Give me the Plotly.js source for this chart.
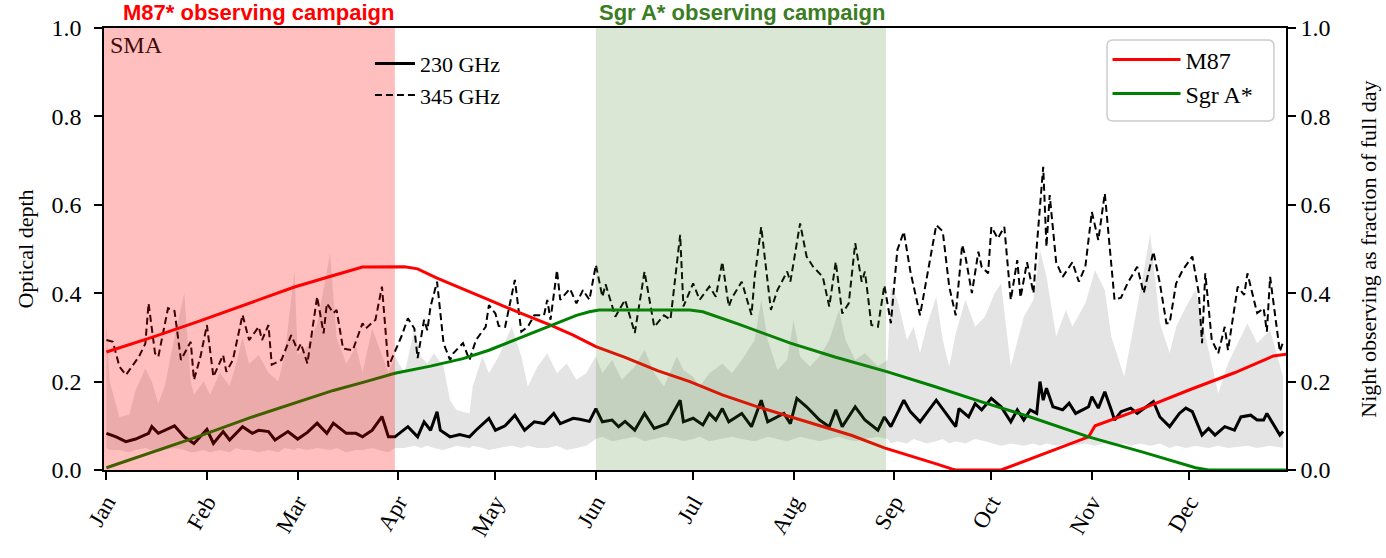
<!DOCTYPE html>
<html>
<head>
<meta charset="utf-8">
<script src="https://cdn.plot.ly/plotly-3.0.1.min.js"></script>
<style>html,body{margin:0;padding:0;background:#fff}</style>
</head>
<body>
<div id="chart" style="width:1386px;height:558px"></div>
<script>
// x values are day of year (0 = 1 Jan)
var monthDays = [0, 31, 59, 90, 120, 151, 181, 212, 243, 273, 304, 334];
var monthNames = ['Jan', 'Feb', 'Mar', 'Apr', 'May', 'Jun', 'Jul', 'Aug', 'Sep', 'Oct', 'Nov', 'Dec'];

// campaign windows (day of year)
var m87Campaign = [-0.75, 89];
var sgrCampaign = [151, 240.5];

// 345 GHz optical depth (dashed)
var d345 = [0,2,4,6,10,12,13,15,16,19,21,23,26,27,29,31,33,36,37,39,42,44,47,48,50,51,54,57,59,60,62,65,67,68,70,71,73,76,79,80,83,85,87,89,91,93,95,96,98,99,100,102,104,106,107,110,112,114,117,118,120,121,123,126,128,130,132,135,136,137,139,140,143,145,147,149,151,153,154,157,160,163,166,169,172,174,177,178,181,183,186,188,190,192,193,196,199,200,202,205,207,210,211,214,216,218,221,223,225,227,229,231,233,234,236,238,240,242,244,246,248,251,253,256,258,260,262,264,265,267,269,270,272,273,275,277,279,281,282,284,286,287,289,290,291,293,295,298,300,302,304,306,308,311,313,315,318,320,323,325,327,328,330,332,335,337,338,339,341,343,345,346,349,351,352,355,357,358,359,362,363];
var v345 = [0.294,0.29,0.234,0.215,0.256,0.286,0.377,0.264,0.256,0.366,0.36,0.249,0.29,0.204,0.256,0.328,0.211,0.26,0.222,0.249,0.351,0.294,0.324,0.294,0.328,0.238,0.249,0.305,0.271,0.286,0.241,0.392,0.309,0.377,0.355,0.362,0.275,0.271,0.332,0.32,0.34,0.415,0.234,0.27,0.302,0.343,0.32,0.253,0.34,0.316,0.37,0.426,0.287,0.249,0.264,0.287,0.249,0.294,0.324,0.373,0.354,0.326,0.324,0.43,0.313,0.324,0.35,0.35,0.385,0.34,0.452,0.385,0.41,0.377,0.407,0.385,0.464,0.392,0.42,0.347,0.385,0.31,0.449,0.324,0.35,0.34,0.532,0.37,0.422,0.385,0.415,0.392,0.471,0.37,0.39,0.426,0.351,0.437,0.55,0.362,0.407,0.449,0.426,0.558,0.483,0.46,0.437,0.37,0.471,0.354,0.377,0.513,0.426,0.449,0.328,0.324,0.418,0.332,0.498,0.539,0.45,0.35,0.43,0.554,0.54,0.415,0.35,0.509,0.483,0.4,0.494,0.46,0.445,0.55,0.524,0.55,0.385,0.475,0.39,0.47,0.4,0.505,0.686,0.505,0.622,0.47,0.437,0.47,0.426,0.46,0.584,0.52,0.626,0.385,0.39,0.422,0.46,0.4,0.494,0.422,0.332,0.332,0.422,0.452,0.483,0.4,0.287,0.445,0.294,0.264,0.324,0.271,0.415,0.396,0.445,0.355,0.366,0.313,0.437,0.268,0.29];

// 230 GHz optical depth (solid)
var d230 = [0,3,6,9,13,14,16,18,21,24,27,31,33,36,38,42,45,47,50,52,56,59,62,65,68,70,74,77,79,82,85,87,89,93,96,98,100,102,103,106,109,112,114,118,120,123,126,129,132,135,138,140,144,146,149,151,153,156,158,160,163,166,169,173,177,178,181,184,186,188,190,192,196,199,202,204,207,209,211,213,216,218,220,223,225,227,231,234,238,240,242,246,248,251,253,256,259,262,263,266,268,270,273,276,279,281,283,285,287,288,289,290,292,295,297,299,303,304,306,308,310,311,313,316,318,321,323,325,328,331,333,335,338,340,342,345,348,350,353,355,357,358,360,362,363];
var v230 = [0.083,0.075,0.064,0.07,0.083,0.098,0.083,0.09,0.1,0.075,0.06,0.092,0.06,0.087,0.068,0.098,0.083,0.09,0.087,0.068,0.087,0.07,0.085,0.106,0.083,0.106,0.083,0.083,0.075,0.09,0.121,0.075,0.075,0.098,0.075,0.109,0.09,0.132,0.09,0.075,0.08,0.075,0.09,0.117,0.09,0.1,0.124,0.09,0.109,0.105,0.128,0.105,0.117,0.115,0.11,0.139,0.109,0.113,0.098,0.11,0.09,0.128,0.094,0.105,0.158,0.109,0.117,0.102,0.128,0.113,0.139,0.109,0.128,0.098,0.158,0.109,0.12,0.128,0.105,0.162,0.143,0.128,0.113,0.098,0.136,0.098,0.143,0.113,0.09,0.12,0.098,0.158,0.132,0.109,0.128,0.158,0.128,0.098,0.139,0.12,0.15,0.136,0.162,0.143,0.109,0.136,0.113,0.136,0.128,0.2,0.158,0.185,0.143,0.136,0.151,0.128,0.143,0.166,0.14,0.177,0.136,0.113,0.132,0.14,0.128,0.143,0.155,0.12,0.098,0.128,0.14,0.132,0.079,0.094,0.079,0.098,0.09,0.12,0.124,0.113,0.113,0.128,0.105,0.079,0.087];

// 230 GHz spread (shaded band)
var bandDays = [0,1,4,7,9,12,14,16,18,21,24,26,27,30,32,35,38,40,42,44,47,50,53,55,58,59,62,65,69,71,74,77,79,82,84,87,89,92,95,97,99,101,104,106,108,112,113,116,118,121,125,128,130,133,136,139,142,145,148,151,153,156,159,163,166,169,172,176,178,181,183,186,190,193,196,200,202,204,207,210,212,214,217,220,223,226,228,231,234,238,241,242,244,247,249,251,253,256,258,260,262,265,268,271,274,276,279,283,286,288,290,293,296,298,302,305,308,310,314,316,319,322,325,328,330,333,336,340,343,346,352,355,359,363];
var bandHi = [0.33,0.2,0.12,0.125,0.18,0.23,0.2,0.15,0.19,0.3,0.4,0.2,0.17,0.2,0.17,0.22,0.19,0.24,0.3,0.24,0.26,0.22,0.2,0.26,0.45,0.26,0.28,0.33,0.49,0.3,0.24,0.28,0.22,0.32,0.28,0.22,0.257,0.219,0.32,0.257,0.241,0.264,0.234,0.158,0.136,0.128,0.189,0.257,0.219,0.257,0.324,0.257,0.189,0.234,0.264,0.219,0.241,0.204,0.219,0.257,0.219,0.249,0.204,0.234,0.272,0.219,0.189,0.257,0.226,0.211,0.189,0.219,0.241,0.219,0.249,0.294,0.385,0.294,0.226,0.249,0.34,0.257,0.234,0.257,0.294,0.362,0.294,0.249,0.264,0.234,0.249,0.415,0.385,0.294,0.324,0.264,0.324,0.392,0.294,0.234,0.309,0.385,0.324,0.347,0.4,0.422,0.234,0.347,0.385,0.498,0.438,0.302,0.362,0.324,0.377,0.452,0.407,0.302,0.211,0.287,0.407,0.535,0.332,0.264,0.324,0.369,0.407,0.272,0.173,0.241,0.332,0.287,0.317,0.211];
var bandLo = [0.05,0.045,0.045,0.04,0.045,0.05,0.045,0.04,0.045,0.05,0.045,0.04,0.04,0.045,0.04,0.045,0.04,0.05,0.045,0.045,0.04,0.045,0.04,0.05,0.045,0.05,0.045,0.05,0.045,0.05,0.04,0.045,0.045,0.05,0.045,0.04,0.05,0.05,0.055,0.05,0.055,0.05,0.045,0.05,0.055,0.05,0.055,0.05,0.045,0.05,0.055,0.05,0.055,0.05,0.05,0.055,0.045,0.05,0.055,0.07,0.075,0.065,0.07,0.075,0.065,0.07,0.075,0.07,0.065,0.07,0.075,0.065,0.07,0.075,0.07,0.065,0.07,0.075,0.07,0.065,0.07,0.075,0.07,0.065,0.07,0.075,0.07,0.065,0.07,0.075,0.07,0.06,0.065,0.06,0.07,0.065,0.06,0.065,0.07,0.06,0.065,0.06,0.07,0.065,0.06,0.055,0.06,0.055,0.06,0.055,0.06,0.055,0.06,0.055,0.06,0.055,0.06,0.055,0.06,0.055,0.06,0.055,0.06,0.05,0.055,0.05,0.055,0.05,0.055,0.05,0.055,0.05,0.055,0.05];

// night observing fraction (right axis)
var m87Days = [0,14,28,45,58,70,79,92,96,102,110,118,127,137,144,151,160,170,180,190,200,211,220,230,240,250,256,261,262,276,290,303,305,320,334,348,360,364];
var m87Night = [0.267,0.30,0.335,0.38,0.414,0.44,0.459,0.46,0.455,0.434,0.41,0.385,0.357,0.328,0.305,0.279,0.255,0.225,0.2,0.17,0.145,0.12,0.1,0.078,0.05,0.028,0.014,0.002,0,0,0.038,0.075,0.1,0.14,0.181,0.22,0.258,0.262];
var sgrDays = [0,14,28,45,58,70,80,89,100,110,118,127,137,145,149,152,180,184,195,211,225,241,255,270,285,303,320,336,340,364];
var sgrNight = [0.005,0.04,0.075,0.12,0.152,0.18,0.2,0.219,0.235,0.252,0.271,0.297,0.326,0.35,0.358,0.362,0.362,0.358,0.33,0.287,0.255,0.222,0.19,0.154,0.12,0.075,0.04,0.005,0,0];

var serif = 'Liberation Serif, Times New Roman, serif';
var sans = 'Liberation Sans, Arial, sans-serif';

var bandLow = {
  x: bandDays, y: bandLo,
  mode: 'lines', line: {width: 0, color: '#e4e4e4'},
  showlegend: false, hoverinfo: 'skip', type: 'scatter'
};
var bandHigh = {
  x: bandDays, y: bandHi,
  mode: 'lines', line: {width: 0, color: '#e4e4e4'},
  fill: 'tonexty', fillcolor: '#e4e4e4',
  showlegend: false, hoverinfo: 'skip', type: 'scatter'
};
var trace230 = {
  x: d230, y: v230, name: '230 GHz',
  mode: 'lines', line: {color: 'black', width: 3},
  legend: 'legend2', type: 'scatter'
};
var trace345 = {
  x: d345, y: v345, name: '345 GHz',
  mode: 'lines', line: {color: 'black', width: 2, dash: '7px,4px'},
  legend: 'legend2', type: 'scatter'
};
var traceM87 = {
  x: m87Days, y: m87Night, name: 'M87', yaxis: 'y2',
  mode: 'lines', line: {color: '#ff0000', width: 3},
  legend: 'legend', type: 'scatter'
};
var traceSgr = {
  x: sgrDays, y: sgrNight, name: 'Sgr A*', yaxis: 'y2',
  mode: 'lines', line: {color: '#008000', width: 3},
  legend: 'legend', type: 'scatter'
};

var axisStyle = {
  range: [0, 1], dtick: 0.2, tickformat: '.1f',
  ticks: 'outside', ticklen: 8, tickwidth: 1.6, tickcolor: 'black',
  showline: true, linewidth: 1.6, linecolor: 'black',
  showgrid: false, zeroline: false,
  tickfont: {size: 24}
};

// rounded frame behind the source legend (paper coordinates)
var bx0 = 0.8486, bx1 = 0.9898, byT = 0.9729, byB = 0.7896, rx = 0.005, ry = 0.0135;
var legendFrame = 'M' + (bx0 + rx) + ',' + byT + ' L' + (bx1 - rx) + ',' + byT +
  ' Q' + bx1 + ',' + byT + ' ' + bx1 + ',' + (byT - ry) + ' L' + bx1 + ',' + (byB + ry) +
  ' Q' + bx1 + ',' + byB + ' ' + (bx1 - rx) + ',' + byB + ' L' + (bx0 + rx) + ',' + byB +
  ' Q' + bx0 + ',' + byB + ' ' + bx0 + ',' + (byB + ry) + ' L' + bx0 + ',' + (byT - ry) +
  ' Q' + bx0 + ',' + byT + ' ' + (bx0 + rx) + ',' + byT + ' Z';

var layout = {
  width: 1386,
  height: 558,
  margin: {l: 104, r: 100, t: 28, b: 88, pad: 0},
  paper_bgcolor: 'white',
  plot_bgcolor: 'white',
  font: {family: serif, size: 22, color: 'black'},
  xaxis: {
    range: [-0.75, 363.9],
    tickvals: monthDays, ticktext: monthNames, tickangle: -60,
    ticks: 'outside', ticklen: 8, tickwidth: 1.6, tickcolor: 'black',
    showline: true, mirror: true, linewidth: 1.6, linecolor: 'black',
    showgrid: false, zeroline: false,
    tickfont: {size: 23}
  },
  yaxis: Object.assign({}, axisStyle, {
    ticklabelstandoff: 8,
    title: {text: 'Optical depth', font: {size: 22}, standoff: 12}
  }),
  yaxis2: Object.assign({}, axisStyle, {
    overlaying: 'y', side: 'right',
    title: {text: 'Night observing as fraction of full day', font: {size: 22}, standoff: 31}
  }),
  legend: {
    x: 0.849, y: 0.979, xanchor: 'left', yanchor: 'top',
    traceorder: 'normal',
    bgcolor: 'rgba(0,0,0,0)', borderwidth: 0,
    font: {size: 24}, itemwidth: 68
  },
  legend2: {
    x: 0.225, y: 0.967, xanchor: 'left', yanchor: 'top',
    traceorder: 'normal',
    bgcolor: 'rgba(0,0,0,0)', borderwidth: 0,
    font: {size: 22}, itemwidth: 40
  },
  shapes: [
    {type: 'rect', xref: 'x', yref: 'paper', x0: m87Campaign[0], x1: m87Campaign[1], y0: 0, y1: 1,
     fillcolor: 'rgba(255,0,0,0.25)', line: {width: 0}, layer: 'above'},
    {type: 'rect', xref: 'x', yref: 'paper', x0: sgrCampaign[0], x1: sgrCampaign[1], y0: 0, y1: 1,
     fillcolor: 'rgba(60,130,30,0.19)', line: {width: 0}, layer: 'above'},
    {type: 'path', xref: 'paper', yref: 'paper', path: legendFrame,
     fillcolor: 'white', line: {color: '#cccccc', width: 1.5}, layer: 'above'}
  ],
  annotations: [
    {text: '<b>M87* observing campaign</b>', xref: 'paper', yref: 'paper',
     x: 0.1308, y: 1.036, xanchor: 'center', yanchor: 'middle', showarrow: false,
     font: {family: sans, size: 22, color: '#ff0000'}},
    {text: '<b>Sgr A* observing campaign</b>', xref: 'paper', yref: 'paper',
     x: 0.540, y: 1.036, xanchor: 'center', yanchor: 'middle', showarrow: false,
     font: {family: sans, size: 22, color: '#3b7d23'}},
    {text: 'SMA', xref: 'paper', yref: 'paper',
     x: 0.003, y: 0.995, xanchor: 'left', yanchor: 'top', showarrow: false,
     font: {family: serif, size: 24, color: '#3f0a0a'}}
  ]
};

Plotly.newPlot('chart', [bandLow, bandHigh, trace230, trace345, traceM87, traceSgr], layout, {displayModeBar: false});
</script>
</body>
</html>
